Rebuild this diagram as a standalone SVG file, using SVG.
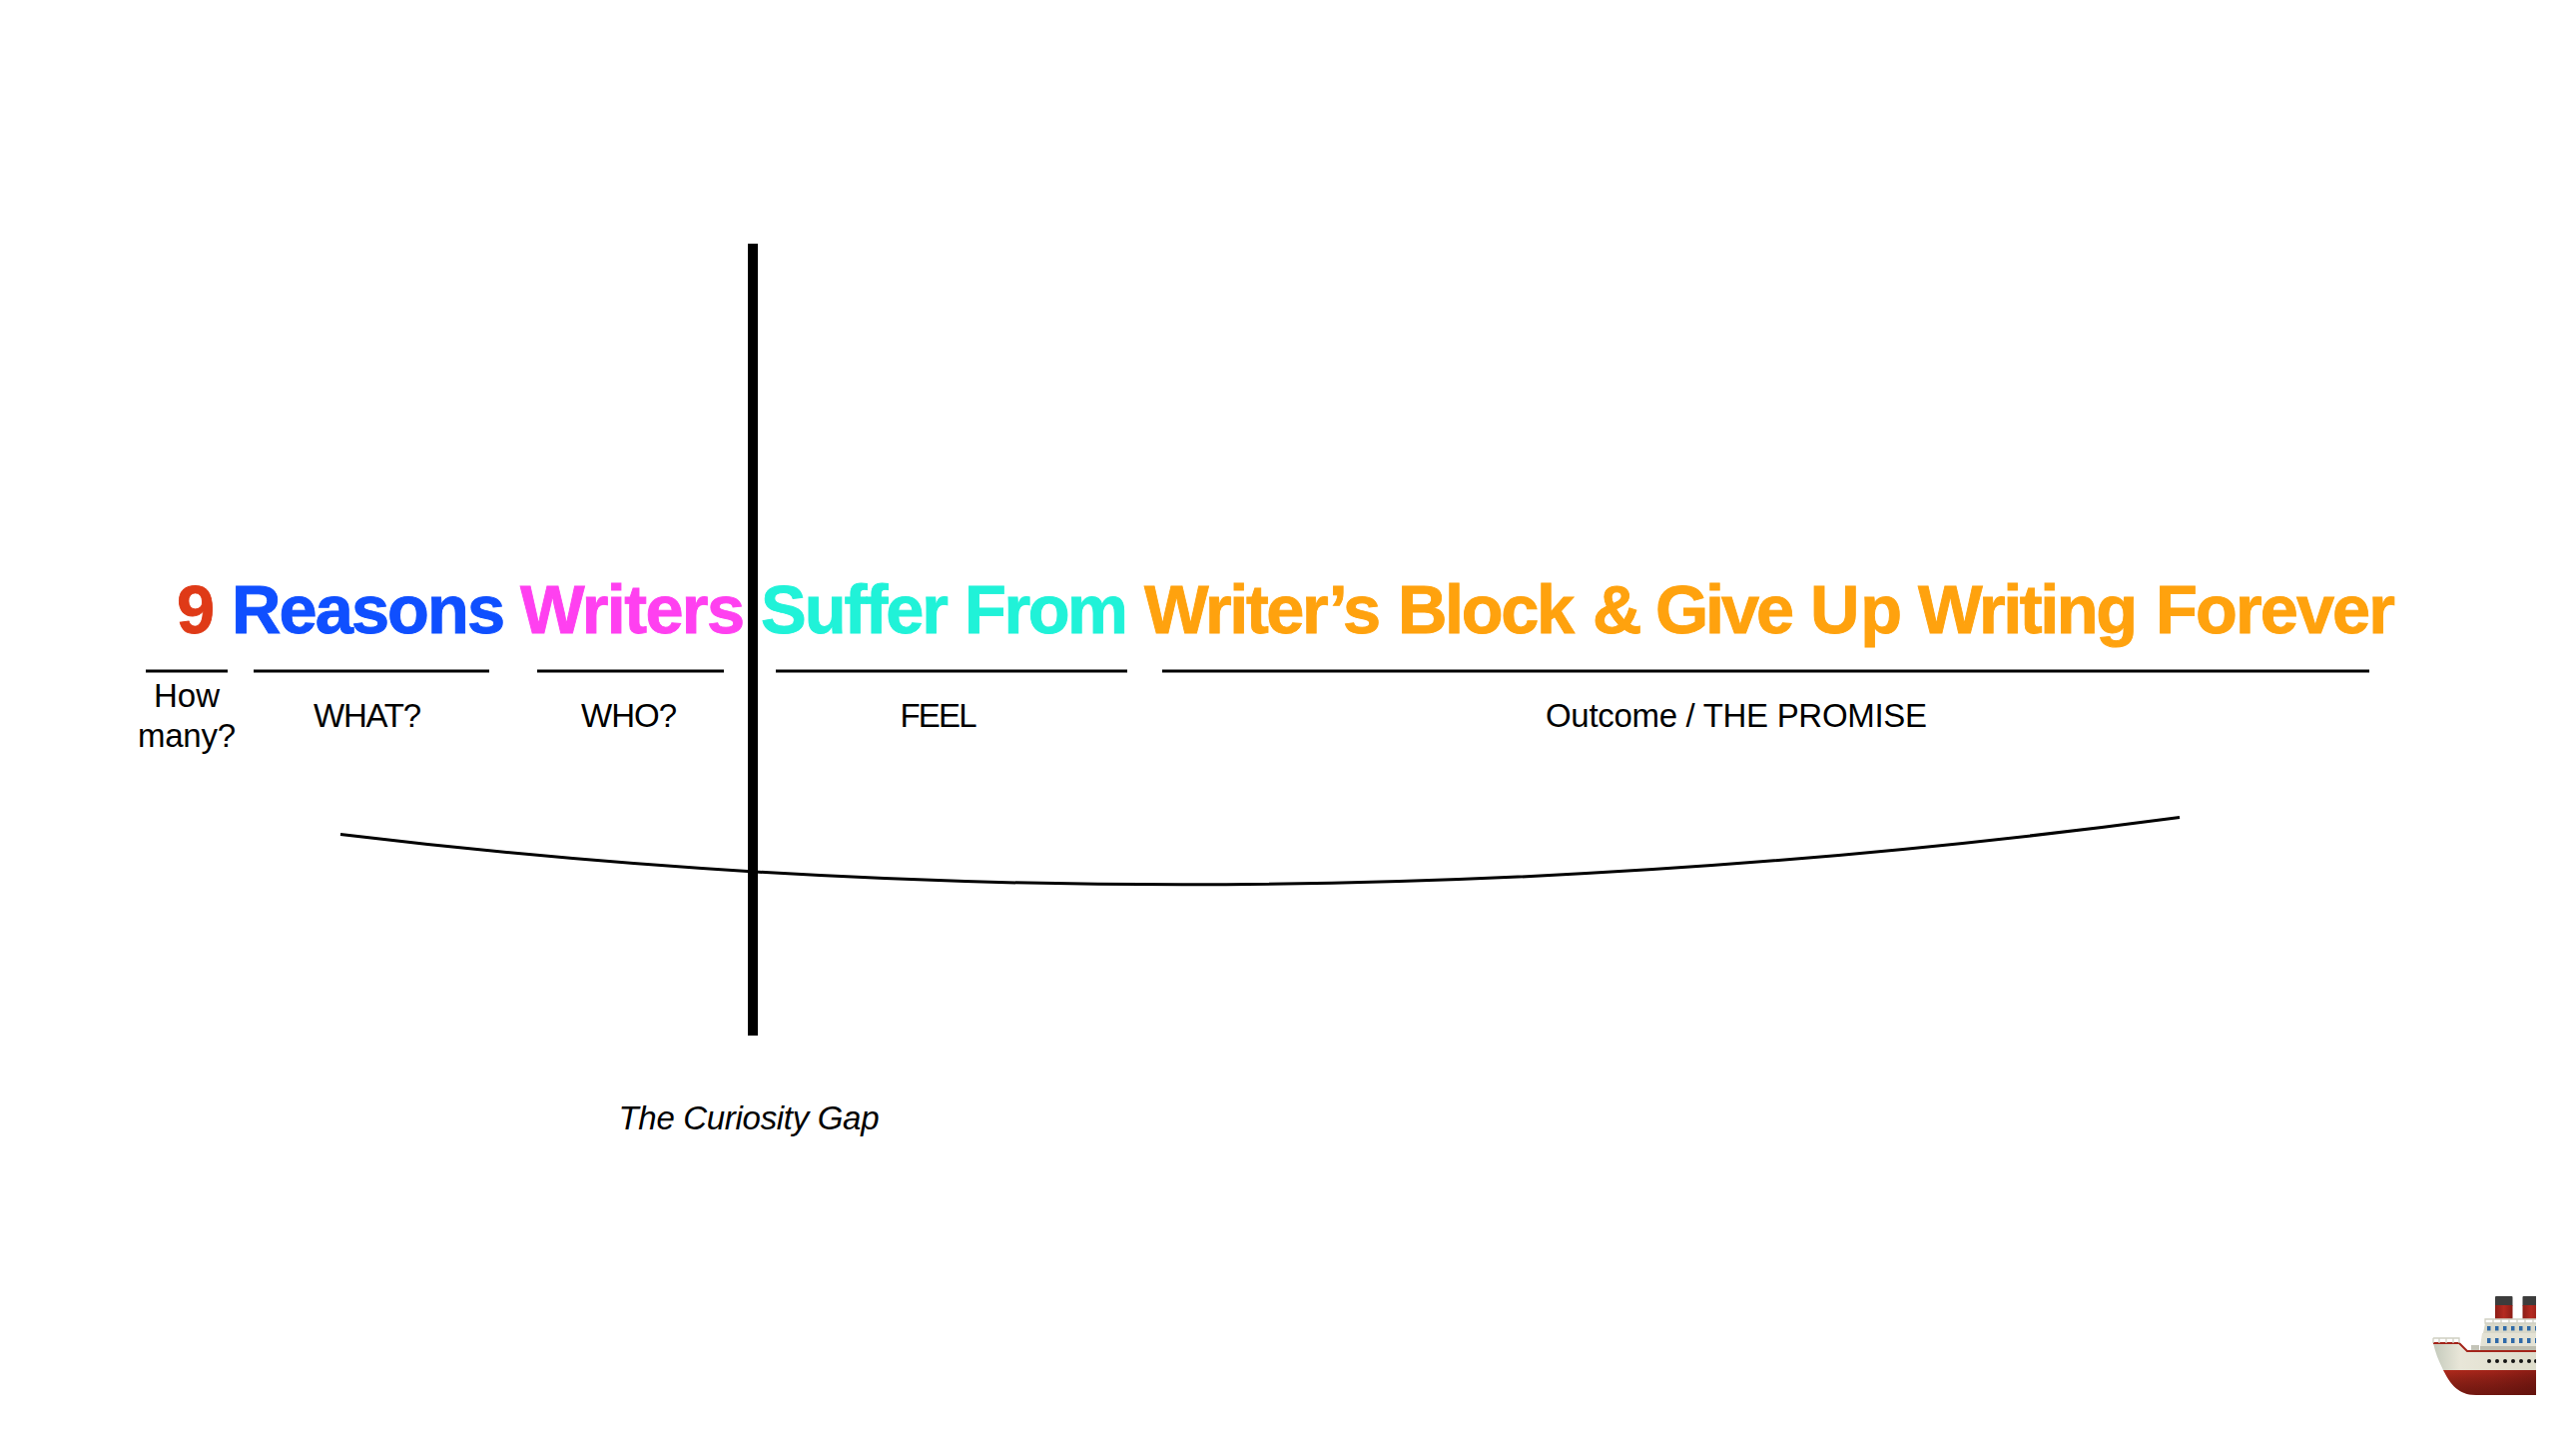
<svg xmlns="http://www.w3.org/2000/svg" width="2580" height="1436" viewBox="0 0 2580 1436">
<style>
text{font-family:"Liberation Sans",Arial,sans-serif;fill:#000}
.t{font-size:68.5px;font-weight:700;stroke-width:0.9px}
.red{fill:#df3a17;stroke:#df3a17}
.blue{fill:#0f4fff;stroke:#0f4fff}
.pink{fill:#ff40f0;stroke:#ff40f0}
.cyan{fill:#20f2d8;stroke:#20f2d8}
.orange{fill:#ffa20e;stroke:#ffa20e}
.l{font-size:33px;text-anchor:middle}
.u{stroke:#000;stroke-width:3.2;fill:none}
</style>
<defs>
<linearGradient id="hull" x1="0" y1="0" x2="1" y2="0"><stop offset="0" stop-color="#b02a1c"/><stop offset="0.5" stop-color="#a3241a"/><stop offset="1" stop-color="#8a1c14"/></linearGradient>
<linearGradient id="hullv" x1="0" y1="0" x2="0" y2="1"><stop offset="0" stop-color="#000" stop-opacity="0"/><stop offset="1" stop-color="#3a0806" stop-opacity="0.5"/></linearGradient>
<linearGradient id="cream" x1="0" y1="0" x2="1" y2="0"><stop offset="0" stop-color="#c4cabc"/><stop offset="0.25" stop-color="#e8e6d8"/><stop offset="1" stop-color="#dedccb"/></linearGradient>
<linearGradient id="fun" x1="0" y1="0" x2="1" y2="0"><stop offset="0" stop-color="#8c1d16"/><stop offset="0.5" stop-color="#b52a20"/><stop offset="1" stop-color="#8c1d16"/></linearGradient>
<clipPath id="shipclip"><rect x="2400" y="1260" width="140" height="176"/></clipPath>
</defs>
<rect width="2580" height="1436" fill="#fff"/>
<g id="title">
<text class="t red" x="177" y="633.5" textLength="38">9</text>
<text class="t blue" x="232" y="633.5" textLength="274">Reasons</text>
<text class="t pink" x="521" y="633.5" textLength="225">Writers</text>
<text class="t cyan" x="762" y="633.5" textLength="188">Suffer</text>
<text class="t cyan" x="966" y="633.5" textLength="164">From</text>
<text class="t orange" x="1146" y="633.5" textLength="237">Writer’s</text>
<text class="t orange" x="1400" y="633.5" textLength="177">Block</text>
<text class="t orange" x="1595" y="633.5" textLength="44">&amp;</text>
<text class="t orange" x="1658" y="633.5" textLength="139">Give</text>
<text class="t orange" x="1813" y="633.5" textLength="92">Up</text>
<text class="t orange" x="1921" y="633.5" textLength="220">Writing</text>
<text class="t orange" x="2159" y="633.5" textLength="240">Forever</text>
</g>
<g id="labels">
<text class="l" x="187" y="708" textLength="66">How</text>
<text class="l" x="187" y="748" textLength="98">many?</text>
<text class="l" x="368" y="728" textLength="108">WHAT?</text>
<text class="l" x="630" y="728" textLength="96">WHO?</text>
<text class="l" x="940" y="728" textLength="77">FEEL</text>
<text class="l" x="1739" y="728" textLength="382">Outcome / THE PROMISE</text>
<text class="l" x="750" y="1131" font-style="italic" textLength="261">The Curiosity Gap</text>
</g>
<g id="connectors">
<path class="u" d="M146 672H228M254 672H490M538 672H725M777 672H1129M1164 672H2373"/>
<path d="M341 835.5Q1240 944 2183 818.5" fill="none" stroke="#000" stroke-width="3"/>
<rect x="749" y="244" width="10" height="793" fill="#000"/>
</g>
<g id="ship" clip-path="url(#shipclip)">
<rect x="2499" y="1298" width="17.5" height="10" rx="1" fill="#3c3c3c"/>
<rect x="2499" y="1307" width="17.5" height="14" fill="url(#fun)"/>
<rect x="2526.5" y="1298" width="17.5" height="10" rx="1" fill="#3c3c3c"/>
<rect x="2526.5" y="1307" width="17.5" height="14" fill="url(#fun)"/>
<path d="M2489 1325H2545V1335H2487Z" fill="#d9d8c9"/>
<path d="M2486 1335H2545V1349H2484Z" fill="#e4e2d4"/>
<rect x="2484" y="1348" width="61" height="5" fill="#bdbdaf"/>
<g fill="#2f6aa8">
<rect x="2491" y="1328" width="3.5" height="4.5"/><rect x="2499" y="1328" width="3.5" height="4.5"/><rect x="2507" y="1328" width="3.5" height="4.5"/><rect x="2515" y="1328" width="3.5" height="4.5"/><rect x="2523" y="1328" width="3.5" height="4.5"/><rect x="2531" y="1328" width="3.5" height="4.5"/><rect x="2539" y="1328" width="3.5" height="4.5"/>
<rect x="2491" y="1340" width="3.5" height="5"/><rect x="2499" y="1340" width="3.5" height="5"/><rect x="2507" y="1340" width="3.5" height="5"/><rect x="2515" y="1340" width="3.5" height="5"/><rect x="2523" y="1340" width="3.5" height="5"/><rect x="2531" y="1340" width="3.5" height="5"/><rect x="2539" y="1340" width="3.5" height="5"/>
</g>
<path d="M2437 1345H2463L2471 1353H2545V1372H2447C2442 1362 2439 1354 2437 1345Z" fill="url(#cream)"/>
<path d="M2447 1372H2545V1397H2480C2462 1397 2454 1386 2447 1372Z" fill="url(#hull)"/>
<path d="M2447 1372H2545V1397H2480C2462 1397 2454 1386 2447 1372Z" fill="url(#hullv)"/>
<path d="M2437 1345H2463L2471 1353H2545" fill="none" stroke="#a3241a" stroke-width="2"/>
<rect x="2475" y="1347" width="8" height="5" fill="#c4c4b8"/>
<g fill="none" stroke="#cfcfc2" stroke-width="1.3">
<path d="M2437 1340H2463V1345M2437 1340V1345M2443 1340V1345M2450 1340V1345M2457 1340V1345"/>
<path d="M2489 1321H2545V1325H2489ZM2497 1321V1325M2505 1321V1325M2513 1321V1325M2521 1321V1325M2529 1321V1325M2537 1321V1325"/>
</g>
<g fill="#141414">
<circle cx="2493" cy="1363" r="2"/><circle cx="2501" cy="1363" r="2"/><circle cx="2509" cy="1363" r="2"/><circle cx="2517" cy="1363" r="2"/><circle cx="2525" cy="1363" r="2"/><circle cx="2533" cy="1363" r="2"/><circle cx="2540" cy="1363" r="2"/>
</g>
</g>
</svg>
